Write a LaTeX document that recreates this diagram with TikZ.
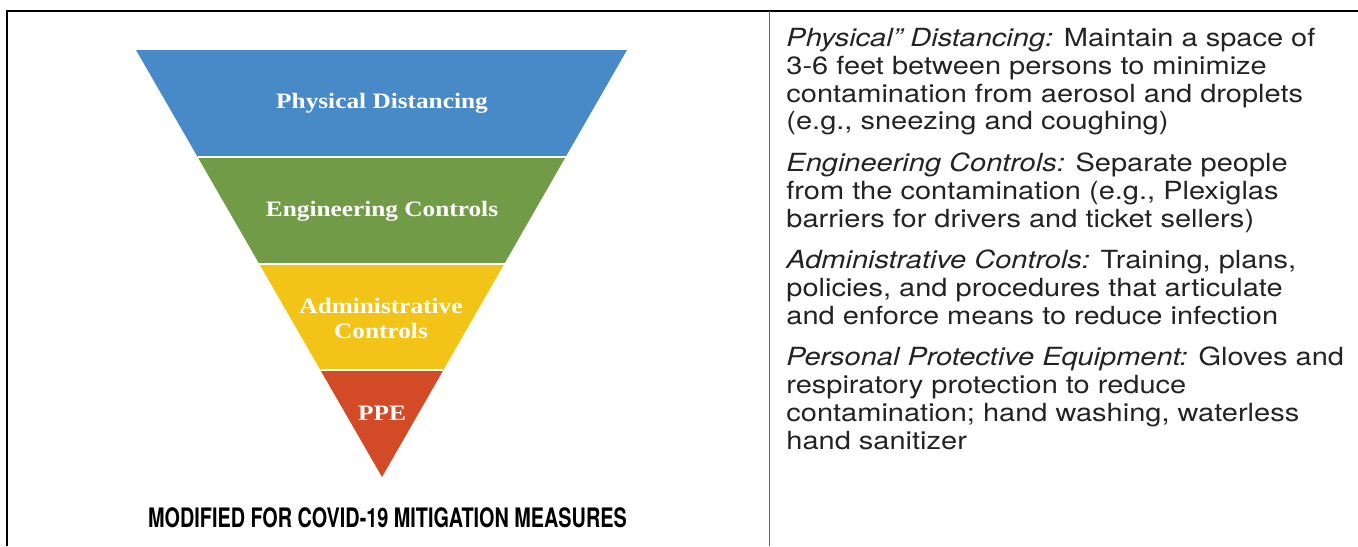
\documentclass[tikz,border=0pt]{standalone}
\usepackage{fontspec}
\usetikzlibrary{calc}
\newfontfamily\bodyfont{TeX Gyre Heros}[FakeStretch=1.16]
\newfontfamily\bandfont{Liberation Serif}[FakeStretch=1.15]
\newfontfamily\capfont{TeX Gyre Heros}[FakeStretch=0.74]
\definecolor{bandblue}{RGB}{72,137,199}
\definecolor{bandgreen}{RGB}{114,155,72}
\definecolor{bandyellow}{RGB}{242,196,24}
\definecolor{bandred}{RGB}{211,74,38}
\definecolor{textgrey}{RGB}{35,35,35}

\begin{document}
\begin{tikzpicture}[x=0.5pt, y=-0.5pt,
		band/.style={text=white, align=center, font=\bandfont\bfseries\fontsize{11}{12.5}\selectfont},
		desc/.style={anchor=base west, inner sep=0pt, align=left, text=textgrey, font=\bodyfont\fontsize{12.5}{13.85}\selectfont}]
	\useasboundingbox (0,0) rectangle (1358,546);
	
	% frame
	\draw[line width=0.8pt] (7,546) -- (7,11) -- (1358,11);
	\draw[black!60, line width=0.5pt] (769,11) -- (769,546);
	
	% inverted pyramid
	\coordinate (tl) at (136,50);
	\coordinate (tr) at (627,50);
	\coordinate (apex) at (382,477);
	\foreach \c [count=\i] in {bandblue, bandgreen, bandyellow, bandred}{
		\fill[\c] ($(tl)!{(\i-1)/4}!(apex)$) -- ($(tr)!{(\i-1)/4}!(apex)$)
			-- ($(tr)!{\i/4}!(apex)$) -- ($(tl)!{\i/4}!(apex)$) -- cycle;
	}
	\foreach \i in {1, 2, 3}
		\draw[white, line width=1pt] ($(tl)!{\i/4}!(apex)$) -- ($(tr)!{\i/4}!(apex)$);
	
	\node[band] (pd) at (382,103) {Physical Distancing};
	\node[band] (ec) at (382,211) {Engineering Controls};
	\node[band] (ac) at (381,318) {Administrative\\Controls};
	\node[band] (ppe) at (382,413) {PPE};
	
	\node[anchor=base, inner sep=0pt, font=\capfont\bfseries\fontsize{13.4}{14}\selectfont] (cap) at (387.5,527) {MODIFIED FOR COVID-19 MITIGATION MEASURES};
	
	% descriptions (anchored at the baseline of their last line)
	\node[desc] (d1) at (786,129.8) {\textit{Physical” Distancing:} Maintain a space of\\3-6 feet between persons to minimize\\contamination from aerosol and droplets\\(e.g., sneezing and coughing)};
	\node[desc] (d2) at (786,227.1) {\textit{Engineering Controls:} Separate people\\from the contamination (e.g., Plexiglas\\barriers for drivers and ticket sellers)};
	\node[desc] (d3) at (786,324.2) {\textit{Administrative Controls:} Training, plans,\\policies, and procedures that articulate\\and enforce means to reduce infection};
	\node[desc] (d4) at (786,449) {\textit{Personal Protective Equipment:} Gloves and\\respiratory protection to reduce\\contamination; hand washing, waterless\\hand sanitizer};
\end{tikzpicture}
\end{document}
